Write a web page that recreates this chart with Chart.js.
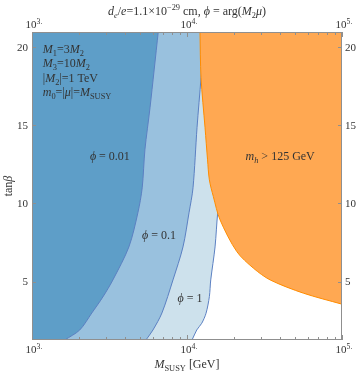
<!DOCTYPE html>
<html>
<head>
<meta charset="utf-8">
<script src="https://cdn.jsdelivr.net/npm/chart.js@4.4.0/dist/chart.umd.min.js"></script>
<style>
html, body { margin: 0; padding: 0; background: #fff; }
canvas { display: block; }
</style>
</head>
<body>
<canvas id="edmChart" width="357" height="374"></canvas>
<script>
// axis ranges
const xMin = 1000, xMax = 100000;
const yMin = 1.27, yMax = 20.96;

// ticks
const xMajorTicks = [1000, 10000, 100000];
const xMajorExp = ["3.", "4.", "5."];
const xMinorTicks = [2000, 3000, 4000, 5000, 6000, 7000, 8000, 9000,
    20000, 30000, 40000, 50000, 60000, 70000, 80000, 90000];
const yTicks = [5, 10, 15, 20];

// phi = 0.01 boundary (excluded to the left); first point continues the curve below the frame
const phi001M = [1000, 1626, 2032, 2433, 2865, 3325, 4217, 4820, 5140, 5352, 5771, 6523];
const phi001Tan = [-0.13, 1.27, 1.91, 3.0, 4.02, 5.11, 7.22, 9.4, 11.0, 13.43, 16.11, 20.96];

// phi = 0.1 boundary
const phi01M = [1000, 2908, 5432, 6030, 6892, 8120, 9420, 10302, 10935, 11605, 12315, 12880];
const phi01Tan = [-2.57, -2.57, 1.27, 1.91, 3.0, 5.11, 7.22, 9.4, 11.0, 14.84, 18.04, 20.96];

// phi = 1 boundary
const phi1M = [1000, 6493, 10770, 11555, 12450, 13270, 13940, 14230, 15170, 15780, 16830, 18970];
const phi1Tan = [-2.57, -2.57, 1.27, 1.91, 2.34, 2.98, 4.04, 5.11, 7.22, 9.4, 11.5, 20.96];

// m_h > 125 GeV boundary (excluded above / right)
const mhM = [12130, 12315, 13075, 13570, 13940, 14790, 16340, 20960, 26840, 34400, 56500, 100000];
const mhTan = [20.96, 18.04, 14.84, 12.79, 11.51, 10.44, 8.95, 6.92, 5.86, 5.11, 4.26, 3.56];

const FONT = '"Liberation Serif", "DejaVu Serif", serif';
const textColor = "#333";
const frameColor = "#8f8f8f";
const blueLine = "#5b80c2";

function toPoints(xs, ys){
    return xs.map((v, i) => ({x: v, y: ys[i]}));
}

function region(xs, ys, fillColor, lineColor, order){
    return {
        data: toPoints(xs, ys),
        showLine: true,
        fill: "end",
        backgroundColor: fillColor,
        borderColor: lineColor,
        borderWidth: 1,
        pointRadius: 0,
        tension: 0.3,
        order: order
    };
}

// rich text: parts = [[text, style]], style "" | "i" | "sub" | "sup" | "isub"
function setFont(ctx, style, size){
    const small = style.indexOf("sub") >= 0 || style.indexOf("sup") >= 0;
    const s = small ? size * 0.7 : size;
    const it = style === "i" || style === "isub";
    ctx.font = (it ? "italic " : "") + s + "px " + FONT;
}
function drawRich(ctx, parts, x, y, align, size){
    let total = 0;
    const widths = parts.map(p => {
        setFont(ctx, p[1], size);
        const w = ctx.measureText(p[0]).width;
        total += w;
        return w;
    });
    let cx = x;
    if(align === "center") cx = x - total / 2;
    if(align === "right") cx = x - total;
    ctx.textAlign = "left";
    ctx.textBaseline = "alphabetic";
    parts.forEach((p, i) => {
        setFont(ctx, p[1], size);
        let dy = 0;
        if(p[1].indexOf("sub") >= 0) dy = size * 0.25;
        if(p[1] === "sup") dy = -size * 0.4;
        ctx.fillText(p[0], cx, y + dy);
        cx += widths[i];
    });
}

const frameAndText = {
    id: "frameAndText",
    afterDraw(chart){
        const ctx = chart.ctx;
        const a = chart.chartArea;
        const xs = chart.scales.x;
        const ys = chart.scales.y;
        ctx.save();
        // frame
        ctx.strokeStyle = frameColor;
        ctx.lineWidth = 1;
        ctx.strokeRect(a.left + 0.5, a.top + 0.5, a.right - a.left - 1, a.bottom - a.top - 1);
        // ticks pointing inward
        ctx.beginPath();
        xMajorTicks.forEach(v => {
            const px = Math.round(xs.getPixelForValue(v)) + 0.5;
            ctx.moveTo(px, a.bottom); ctx.lineTo(px, a.bottom - 5);
            ctx.moveTo(px, a.top); ctx.lineTo(px, a.top + 5);
        });
        xMinorTicks.forEach(v => {
            const px = Math.round(xs.getPixelForValue(v)) + 0.5;
            ctx.moveTo(px, a.bottom); ctx.lineTo(px, a.bottom - 3);
            ctx.moveTo(px, a.top); ctx.lineTo(px, a.top + 3);
        });
        yTicks.forEach(v => {
            const py = Math.round(ys.getPixelForValue(v)) + 0.5;
            ctx.moveTo(a.left, py); ctx.lineTo(a.left + 4, py);
            ctx.moveTo(a.right, py); ctx.lineTo(a.right - 4, py);
        });
        ctx.stroke();

        ctx.fillStyle = textColor;
        // x tick labels, top and bottom
        xMajorTicks.forEach((v, i) => {
            const px = xs.getPixelForValue(v);
            drawRich(ctx, [["10", ""], [xMajorExp[i], "sup"]], px + 2, a.top - 4, "center", 11);
            drawRich(ctx, [["10", ""], [xMajorExp[i], "sup"]], px + 2, a.bottom + 13, "center", 11);
        });
        // y tick labels, left and right
        yTicks.forEach(v => {
            const py = ys.getPixelForValue(v) + 3.5;
            drawRich(ctx, [[String(v), ""]], a.left - 4, py, "right", 11);
            drawRich(ctx, [[String(v), ""]], a.right + 3, py, "left", 11);
        });
        // title
        drawRich(ctx, [["d", "i"], ["e", "isub"], ["/", ""], ["e", "i"], ["=1.1×10", ""], ["−29", "sup"],
            [" cm, ", ""], ["ϕ", "i"], [" = arg(", ""], ["M", "i"], ["2", "sub"], ["μ", "i"], [")", ""]],
            (a.left + a.right) / 2, 15, "center", 12);
        // axis titles
        drawRich(ctx, [["M", "i"], ["SUSY", "sub"], [" [GeV]", ""]], (a.left + a.right) / 2, 368, "center", 12);
        ctx.save();
        ctx.translate(12, (a.top + a.bottom) / 2);
        ctx.rotate(-Math.PI / 2);
        drawRich(ctx, [["tan", ""], ["β", "i"]], 0, 0, "center", 12);
        ctx.restore();

        // parameter block
        const bx = xs.getPixelForValue(1173);
        const params = [
            [["M", "i"], ["1", "sub"], ["=3", ""], ["M", "i"], ["2", "sub"]],
            [["M", "i"], ["3", "sub"], ["=10", ""], ["M", "i"], ["2", "sub"]],
            [["|", ""], ["M", "i"], ["2", "sub"], ["|=1 TeV", ""]],
            [["m", "i"], ["0", "sub"], ["=|", ""], ["μ", "i"], ["|=", ""], ["M", "i"], ["SUSY", "sub"]]
        ];
        const paramTan = [19.83, 18.93, 18.0, 17.1];
        params.forEach((p, i) => {
            drawRich(ctx, p, bx, ys.getPixelForValue(paramTan[i]) + 3.5, "left", 12);
        });
        // curve labels
        const labels = [
            {parts: [["ϕ", "i"], [" = 0.01", ""]], m: 3180, t: 12.98},
            {parts: [["ϕ", "i"], [" = 0.1", ""]], m: 6592, t: 7.93},
            {parts: [["ϕ", "i"], [" = 1", ""]], m: 10446, t: 3.93},
            {parts: [["m", "i"], ["h", "isub"], [" > 125 GeV", ""]], m: 39900, t: 12.98}
        ];
        labels.forEach(l => {
            drawRich(ctx, l.parts, xs.getPixelForValue(l.m), ys.getPixelForValue(l.t) + 3.5, "center", 12);
        });
        ctx.restore();
    }
};

const chartCtx = document.getElementById("edmChart");
new Chart(chartCtx, {
    type: "scatter",
    data: {
        datasets: [
            region(mhM, mhTan, "#ffa852", "#ff8c00", 1),
            region(phi001M, phi001Tan, "#5e9ec8", blueLine, 2),
            region(phi01M, phi01Tan, "#99c1de", blueLine, 3),
            region(phi1M, phi1Tan, "#cde1ec", blueLine, 4)
        ]
    },
    options: {
        responsive: false,
        animation: false,
        devicePixelRatio: 1,
        layout: {padding: {left: 32, top: 32, right: 15, bottom: 34}},
        plugins: {legend: {display: false}, tooltip: {enabled: false}},
        scales: {
            x: {type: "logarithmic", min: xMin, max: xMax, display: false},
            y: {type: "linear", min: yMin, max: yMax, display: false}
        }
    },
    plugins: [frameAndText]
});
</script>
</body>
</html>
